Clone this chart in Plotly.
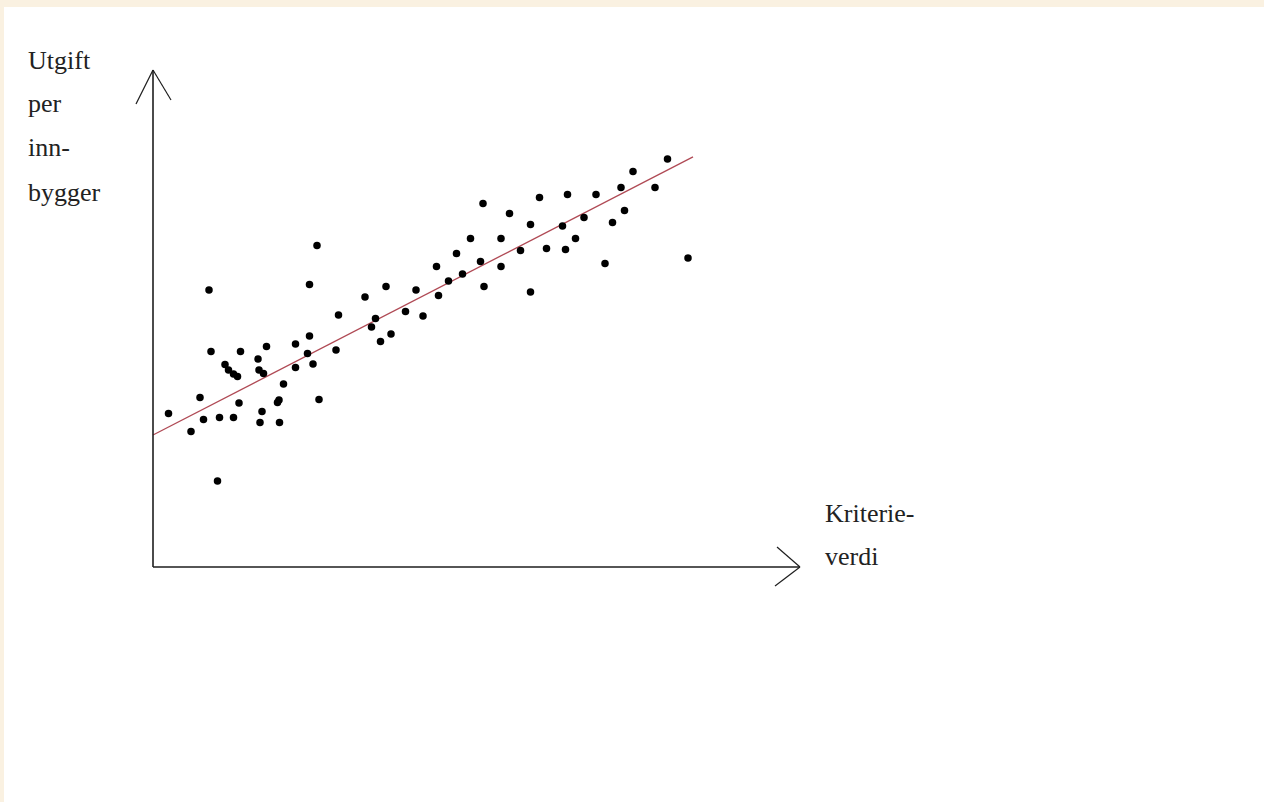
import plotly.graph_objects as go

# Data (Kriterieverdi, Utgift per innbygger) in arbitrary units
kriterieverdi = [32.8, 31.3, 11.2, 37.1, 11.6, 17.5, 22.7, 28.5, 31.3, 21.0,
                 14.4, 15.1, 16.1, 16.9, 21.2, 22.1, 30.9, 36.6, 28.5, 32.0,
                 26.1, 9.4, 17.2, 25.2, 24.9, 33.2, 3.1, 10.1, 13.3, 16.1,
                 21.8, 7.6, 21.4, 25.3, 12.9,
                 102.9, 96.0, 93.6, 100.4, 77.3, 82.9, 88.6, 66.0, 71.3, 94.3,
                 86.2, 75.5, 81.9, 91.9, 63.5, 69.6, 84.5, 73.5, 78.7, 82.5,
                 60.7, 65.5, 107.0, 90.4, 56.7, 69.6, 61.9, 59.1, 46.6, 66.2,
                 75.5, 42.4, 52.6, 57.1, 50.5, 54.0, 44.5, 43.7, 47.6, 45.5]
utgift = [64.3, 56.5, 55.4, 50.4, 43.1, 43.1, 44.1, 44.6, 46.2, 41.6,
          40.5, 39.4, 38.6, 38.1, 39.4, 38.7, 42.7, 43.4, 39.9, 40.6,
          36.6, 33.9, 32.8, 33.4, 32.9, 33.5, 30.7, 29.5, 29.9, 29.9,
          31.1, 27.1, 28.9, 28.9, 17.2,
          81.6, 79.1, 75.9, 75.9, 73.9, 74.5, 74.5, 72.7, 70.7, 71.3,
          69.9, 68.5, 68.2, 68.9, 65.7, 65.7, 65.7, 63.3, 63.7, 63.5,
          62.7, 61.1, 61.8, 60.7, 60.1, 60.1, 58.6, 57.2, 56.1, 56.1,
          55.0, 54.0, 55.4, 54.3, 51.1, 50.2, 49.7, 48.0, 46.6, 45.1]

# Trend line
trend_intercept = 26.4
trend_slope = 0.515
trend_x = [0.0, 108.0]

# Axis extents and labels
x_axis_end = 129.4
y_axis_end = 99.4
y_label_lines = ["Utgift", "per", "inn-", "bygger"]
x_label_lines = ["Kriterie-", "verdi"]

trend_y = [trend_intercept + trend_slope * v for v in trend_x]

fig = go.Figure()

fig.add_trace(go.Scatter(
    x=trend_x, y=trend_y, mode="lines",
    line=dict(color="#b04a55", width=1.3),
    hoverinfo="skip", showlegend=False))

fig.add_trace(go.Scatter(
    x=kriterieverdi, y=utgift, mode="markers",
    marker=dict(color="#000000", size=7.5, line=dict(width=0)),
    showlegend=False))

axis_color = "#1e1e1e"
ax_line = dict(color=axis_color, width=1.6)
arm = dict(color=axis_color, width=1.2)
shapes = [
    dict(type="line", xref="x", yref="y", x0=0, y0=0, x1=0, y1=y_axis_end, line=ax_line),
    dict(type="line", xref="x", yref="y", x0=0, y0=0, x1=x_axis_end, y1=0, line=ax_line),
    # y arrow head
    dict(type="line", xref="x", yref="y", x0=0, y0=y_axis_end, x1=-3.4, y1=y_axis_end - 6.8, line=arm),
    dict(type="line", xref="x", yref="y", x0=0, y0=y_axis_end, x1=3.6, y1=y_axis_end - 6.0, line=arm),
    # x arrow head
    dict(type="line", xref="x", yref="y", x0=x_axis_end, y0=0, x1=x_axis_end - 4.6, y1=4.0, line=arm),
    dict(type="line", xref="x", yref="y", x0=x_axis_end, y0=0, x1=x_axis_end - 5.0, y1=-3.8, line=arm),
]

label_font = dict(family="Liberation Serif", size=26, color="#222222")
annotations = []
y_label_pos = [101.4, 92.8, 84.0, 75.0]
for txt, yy in zip(y_label_lines, y_label_pos):
    annotations.append(dict(x=-25.4, y=yy, xref="x", yref="y", text=txt,
                            showarrow=False, xanchor="left", yanchor="middle",
                            font=label_font))
x_label_pos = [10.8, 2.2]
for txt, yy in zip(x_label_lines, x_label_pos):
    annotations.append(dict(x=134.0, y=yy, xref="x", yref="y", text=txt,
                            showarrow=False, xanchor="left", yanchor="middle",
                            font=label_font))

fig.update_layout(
    width=1264, height=802,
    margin=dict(l=4, r=0, t=7, b=0),
    paper_bgcolor="#faf1e1",
    plot_bgcolor="#ffffff",
    xaxis=dict(range=[-29.8, 222.2], visible=False, fixedrange=True),
    yaxis=dict(range=[-47.0, 112.0], visible=False, fixedrange=True),
    shapes=shapes,
    annotations=annotations,
    showlegend=False,
    hovermode=False,
)

fig.write_html(
    "out.html",
    config={"displayModeBar": False, "staticPlot": True},
    post_script="document.body.style.margin='0';document.body.style.overflow='hidden';",
)
